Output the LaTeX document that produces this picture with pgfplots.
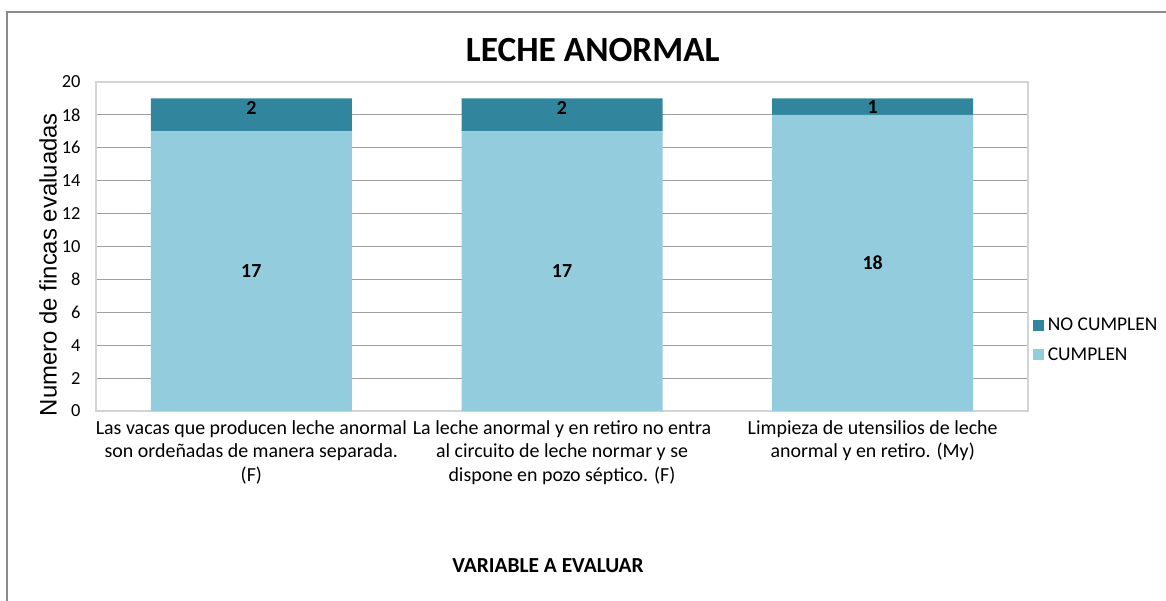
\documentclass[border=0pt]{standalone}
\usepackage{fontspec}
\setmainfont{Carlito}
\newfontfamily\arialf{Liberation Sans}
\usepackage{pgfplots}
\pgfplotsset{compat=1.18}
\definecolor{nocum}{HTML}{31859C}
\definecolor{cum}{HTML}{93CDDD}
\definecolor{gridc}{HTML}{A0A0A0}
\definecolor{boxc}{HTML}{D4D4D4}
\pgfplotsset{sqlegend/.style={legend image code/.code={\fill[##1] (0bp,-5.5bp) rectangle (11bp,5.5bp);}}}
\begin{document}
\begin{tikzpicture}
\path[use as bounding box] (0,0) rectangle (1166bp,-601bp);
\draw[color=gray!90, line width=1.5bp] (7bp,-601bp) -- (7bp,-12bp) -- (1166bp,-12bp);
\begin{axis}[
  at={(96bp,-411bp)}, anchor=south west,
  width=932bp, height=329bp, scale only axis,
  ybar stacked, bar width=201bp,
  xmin=-0.5, xmax=2.5, ymin=0, ymax=20,
  ytick={0,2,...,20},
  xtick={0,1,2},
  xticklabels={{Las vacas que producen leche anormal\\son ordeñadas de manera separada.\\(F)},
               {La leche anormal y en retiro no entra\\al circuito de leche normar y se\\dispone en pozo séptico. (F)},
               {Limpieza de utensilios de leche\\anormal y en retiro. (My)}},
  xticklabel style={align=center, font=\fontsize{20}{23.5}\selectfont, yshift=-6bp},
  yticklabel style={font=\fontsize{18.5}{20}\selectfont, xshift=-12bp},
  /pgf/number format/assume math mode=true,
  major tick length=0pt,
  ymajorgrids, grid style={gridc, line width=0.9bp},
  axis line style={boxc, line width=1.2bp},
  title={\bfseries LECHE ANORMAL},
  title style={font=\fontsize{35.5}{38}\selectfont, at={(axis description cs:0.533,1.08)}, anchor=center},
  xlabel={\bfseries VARIABLE A EVALUAR},
  xlabel style={font=\fontsize{21.5}{24}\selectfont, at={(axis description cs:0.485,-0.471)}, anchor=center},
  ylabel={\arialf Numero de fincas evaluadas},
  ylabel style={font=\fontsize{24}{28}\selectfont, at={(axis description cs:-0.0515,0.445)}, anchor=center, rotate=0},
  every axis plot post/.append style={sqlegend},
  reverse legend,
  legend cell align=left,
  legend style={draw=none, fill=none, at={(1.005,0.216)}, anchor=west,
    font=\fontsize{19.5}{22}\selectfont, row sep=11bp, inner sep=0pt,
    nodes={inner xsep=4bp}},
]
\addplot[fill=cum, draw=none] coordinates {(0,17) (1,17) (2,18)};
\addlegendentry{CUMPLEN}
\addplot[fill=nocum, draw=none] coordinates {(0,2) (1,2) (2,1)};
\addlegendentry{NO CUMPLEN}
\end{axis}
\begin{axis}[
  at={(96bp,-411bp)}, anchor=south west,
  width=932bp, height=329bp, scale only axis,
  xmin=-0.5, xmax=2.5, ymin=0, ymax=20,
  hide axis,
  point meta=explicit symbolic,
]
\addplot[draw=none, mark=none, nodes near coords,
  every node near coord/.append style={anchor=center, font=\bfseries\fontsize{20}{22}\selectfont, text=black}]
  coordinates {(0,8.5)[17] (1,8.5)[17] (2,9)[18] (0,18.4)[2] (1,18.4)[2] (2,18.5)[1]};
\end{axis}
\end{tikzpicture}
\end{document}
